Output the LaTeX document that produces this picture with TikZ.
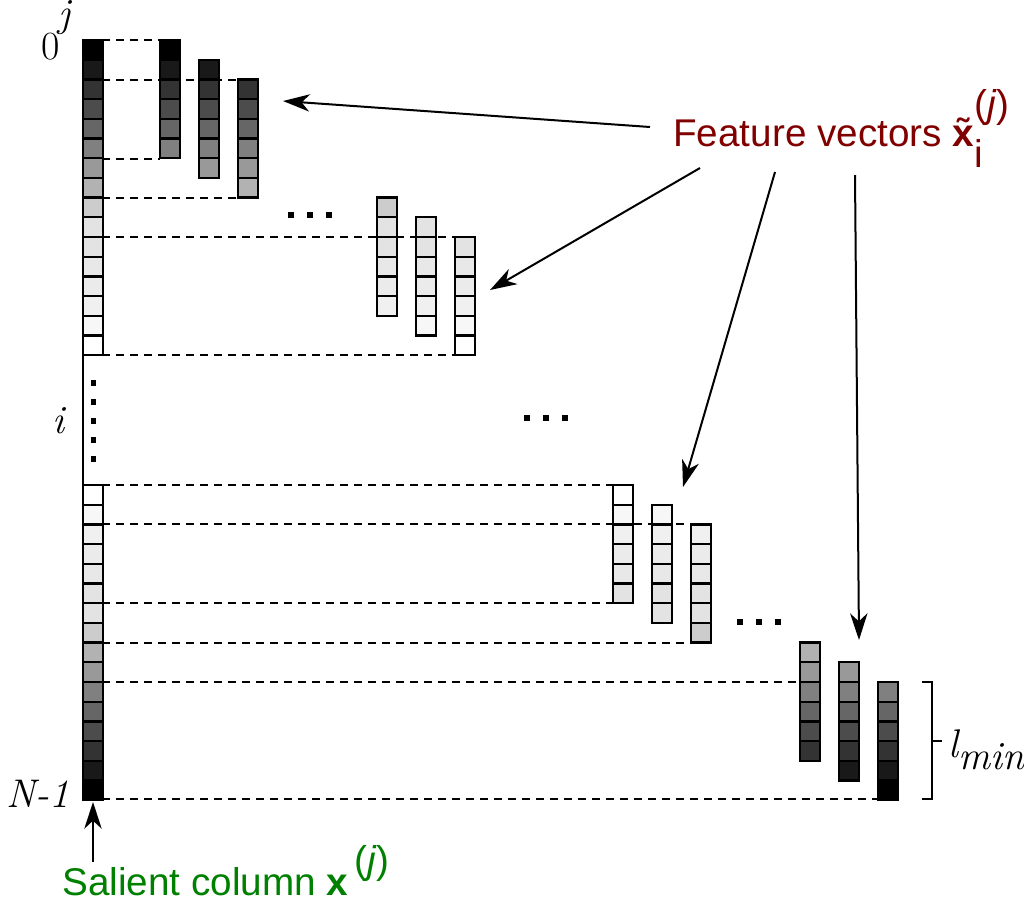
\documentclass[tikz,border=0pt]{standalone}
\usepackage{fontspec}
\newfontfamily\arialf{Liberation Sans}
\usetikzlibrary{arrows.meta,decorations.pathreplacing}
\definecolor{fvred}{RGB}{128,0,0}
\definecolor{salgreen}{RGB}{0,128,0}
\def\topshades{{0,10,20,30,40,50,60,70,80,89,89,91,92,94,97,100}}
\def\botshades{{100,97,94,92,91,89,89,80,70,60,50,40,30,20,10,0}}
\def\cellh{19.7}
% \mkcol{name}{x}{ytop}{k0}{n}{array}
\newcommand\mkcol[6]{%
  \foreach \q in {0,...,\numexpr#5-1\relax}{%
    \pgfmathtruncatemacro\kk{#4+\q}%
    \pgfmathtruncatemacro\vv{#6[\kk]}%
    \pgfmathsetmacro\yy{#3+\q*\cellh}%
    \fill[black!\the\numexpr100-\vv\relax] (#2,\yy) rectangle ++(20,\cellh);
    \draw[cell] (#2,\yy) rectangle ++(20,\cellh);
  }%
  \draw[cell] (#2,#3) rectangle (#2+20,#3+#5*\cellh);
  \coordinate (#1) at (#2+20,#3);
}
\begin{document}
\begin{tikzpicture}[x=0.75pt,y=-0.75pt,
  cell/.style={line width=1.7pt},
  dsh/.style={line width=1.5pt,dash pattern=on 6pt off 4.5pt},
  arr/.style={line width=1.5pt,-{Stealth[length=20pt,width=13pt,inset=6pt]}},
  lab/.style={font=\fontsize{30}{34}\selectfont\itshape,inner sep=0pt}]
\useasboundingbox (0,0) rectangle (1024,908);
% dashed guide lines (behind)
\draw[dsh] (102,40) -- (160,40);
\draw[dsh] (102,80) -- (238,80);
\draw[dsh] (102,158.8) -- (160,158.8);
\draw[dsh] (102,197.6) -- (238,197.6);
\draw[dsh] (102,237) -- (455,237);
\draw[dsh] (102,355) -- (455,355);
\draw[dsh] (102,485) -- (613,485);
\draw[dsh] (102,524.4) -- (691,524.4);
\draw[dsh] (102,603.2) -- (613,603.2);
\draw[dsh] (102,642.6) -- (691,642.6);
\draw[dsh] (102,682) -- (800,682);
\draw[dsh] (102,799) -- (878,799);
% main column
\mkcol{mtop}{83}{40}{0}{16}{\topshades}
\mkcol{mbot}{83}{485}{0}{16}{\botshades}
\draw[cell] (83,355) -- (83,485);
\foreach \yd in {383,402,421,440,459} \fill (90.5,\yd-3) rectangle ++(5.5,6);
% group 1
\mkcol{a1}{160}{40}{0}{6}{\topshades}
\mkcol{a2}{199}{59.7}{1}{6}{\topshades}
\mkcol{a3}{238}{79.4}{2}{6}{\topshades}
% group 2
\mkcol{b1}{377}{197.6}{8}{6}{\topshades}
\mkcol{b2}{416}{217.3}{9}{6}{\topshades}
\mkcol{b3}{455}{237}{10}{6}{\topshades}
% group 3
\mkcol{c1}{613}{485}{0}{6}{\botshades}
\mkcol{c2}{652}{504.7}{1}{6}{\botshades}
\mkcol{c3}{691}{524.4}{2}{6}{\botshades}
% group 4
\mkcol{d1}{800}{642.6}{8}{6}{\botshades}
\mkcol{d2}{839}{662.3}{9}{6}{\botshades}
\mkcol{d3}{878}{682}{10}{6}{\botshades}
% horizontal dots
\foreach \cx/\cy in {291/215,527/418,740/622}
  \foreach \dd in {0,19,38} \fill (\cx+\dd-3,\cy-3) rectangle ++(6,6);
% brace
\draw[line width=1.7pt] (922,682) -- (932,682) -- (932,799) -- (922,799);
\draw[line width=1.7pt] (932,741) -- (942,741);
\node[lab,anchor=west] (lmin) at (948,750) {l\raisebox{-0.3em}{min}};
% labels
\node[lab] (lj) at (64,18) {j};
\node[lab,font=\fontsize{30}{34}\selectfont] (l0) at (51,47) {0};
\node[lab] (li) at (58,421) {i};
\node[lab] (lN) at (38,794) {N-1};
% feature vectors label
\node[inner sep=0pt,anchor=base west,text=fvred,font=\arialf\fontsize{29}{32}\selectfont] (fv) at (673,146)
  {Feature vectors \textbf{\~x}\rlap{\raisebox{-0.55em}{i}}\raisebox{0.75em}{(\textit{j})}};
\coordinate (f1) at (650,127);
\coordinate (f2) at (700,168);
\coordinate (f3) at (775,172);
\coordinate (f4) at (855,175);
\coordinate (t1) at (283,101);
\coordinate (t2) at (490,290);
\coordinate (t3) at (683,487);
\coordinate (t4) at (859,640);
\draw[arr] (f1) -- (t1);
\draw[arr] (f2) -- (t2);
\draw[arr] (f3) -- (t3);
\draw[arr] (f4) -- (t4);
% salient
\node[inner sep=0pt,anchor=base west,text=salgreen,font=\arialf\fontsize{29}{34}\selectfont] (sal) at (62,895)
  {Salient column \textbf{x}\,\raisebox{0.55em}{(\textit{j})}};
\coordinate (s0) at (93,862);
\coordinate (s1) at (93,802);
\draw[arr] (s0) -- (s1);
\end{tikzpicture}
\end{document}
